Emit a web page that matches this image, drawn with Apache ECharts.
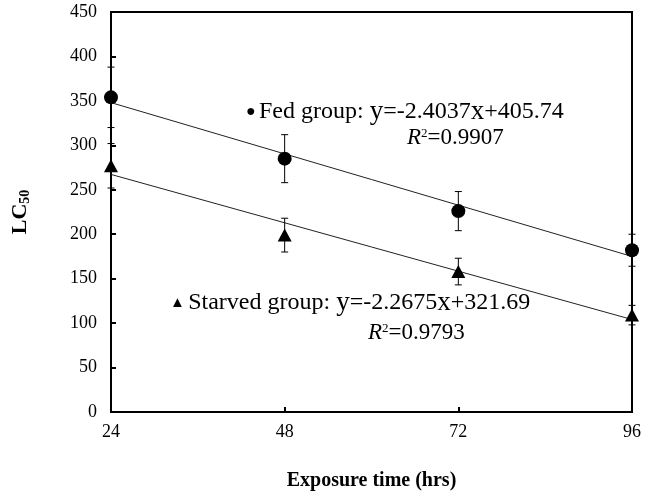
<!DOCTYPE html>
<html><head><meta charset="utf-8">
<script src="https://cdn.jsdelivr.net/npm/echarts@6/dist/echarts.min.js"></script>
<style>html,body{margin:0;padding:0;background:#fff}#c{width:654px;height:491px}</style>
</head><body><div id="c"></div>
<script>
const hours = [24, 48, 72, 96];
const fedMean = [354, 285, 226, 182];
const fedErr = [34, 27, 22, 18];
const starvedMean = [277, 199, 158, 109];
const starvedErr = [25, 19, 15, 11];
const fedFit = [-2.4037, 405.74];      // slope, intercept
const starvedFit = [-2.2675, 321.69];
const xTicks = [24, 48, 72, 96];
const yTicks = [0, 50, 100, 150, 200, 250, 300, 350, 400, 450];

const FONT = "'Liberation Serif','Times New Roman',serif";
const pts = (m) => hours.map((h, i) => [h, m[i]]);
const errs = (m, e) => hours.map((h, i) => [h, m[i] - e[i], m[i] + e[i]]);
const fit = (c) => [[hours[0], c[0]*hours[0]+c[1]], [hours[hours.length-1], c[0]*hours[hours.length-1]+c[1]]];

function errItem(params, api) {
  const x = api.value(0);
  const lo = api.coord([x, api.value(1)]);
  const hi = api.coord([x, api.value(2)]);
  const w = 3.5;
  const st = { stroke: '#000', lineWidth: 1 };
  return { type: 'group', children: [
    { type: 'line', shape: { x1: lo[0], y1: lo[1], x2: hi[0], y2: hi[1] }, style: st },
    { type: 'line', shape: { x1: lo[0]-w, y1: lo[1], x2: lo[0]+w, y2: lo[1] }, style: st },
    { type: 'line', shape: { x1: hi[0]-w, y1: hi[1], x2: hi[0]+w, y2: hi[1] }, style: st }
  ]};
}

const eqRich = {
  d: { fontSize: 16, fontFamily: FONT, fill: '#000' },
  tri: { fontSize: 15, fontFamily: FONT, fill: '#000' },
  t: { fontSize: 24, fontFamily: FONT, fill: '#000' },
  m: { fontSize: 27, fontFamily: FONT, fill: '#000' }
};
const r2Rich = {
  i: { fontSize: 23, fontFamily: FONT, fontStyle: 'italic', fill: '#000' },
  s: { fontSize: 13, fontFamily: FONT, fill: '#000', padding: [0,0,9,0] },
  t: { fontSize: 23, fontFamily: FONT, fill: '#000' }
};

const chart = echarts.init(document.getElementById('c'), null, { renderer: 'canvas' });
chart.setOption({
  animation: false,
  backgroundColor: '#fff',
  textStyle: { fontFamily: FONT },
  grid: { left: 111, right: 22, top: 12, bottom: 79, outerBoundsMode: 'none', containLabel: false, show: true, borderColor: '#000', borderWidth: 2, backgroundColor: 'transparent' },
  xAxis: {
    type: 'value', min: xTicks[0], max: xTicks[xTicks.length-1], interval: 24,
    name: 'Exposure time (hrs)', nameLocation: 'middle', nameGap: 59,
    nameTextStyle: { fontFamily: FONT, fontWeight: 'bold', fontSize: 20, color: '#000' },
    axisLine: { lineStyle: { color: '#000', width: 2 } },
    axisTick: { inside: true, length: 5, lineStyle: { color: '#000', width: 2 } },
    axisLabel: { fontFamily: FONT, fontSize: 18, color: '#000', margin: 11 },
    splitLine: { show: false }
  },
  yAxis: {
    type: 'value', min: yTicks[0], max: yTicks[yTicks.length-1], interval: 50,
    name: '{a|LC}{b|50}', nameLocation: 'middle', nameGap: 79, nameRotate: 90,
    nameTextStyle: { fontFamily: FONT, color: '#000', rich: {
      a: { fontFamily: FONT, fontWeight: 'bold', fontSize: 22, color: '#000' },
      b: { fontFamily: FONT, fontWeight: 'bold', fontSize: 14, color: '#000', verticalAlign: 'bottom', padding: [10,0,0,0] }
    } },
    axisLine: { lineStyle: { color: '#000', width: 2 } },
    axisTick: { inside: true, length: 5, lineStyle: { color: '#000', width: 2 } },
    axisLabel: { fontFamily: FONT, fontSize: 18, color: '#000', margin: 14 },
    splitLine: { show: false }
  },
  series: [
    { type: 'line', data: fit(fedFit), symbol: 'none', lineStyle: { color: '#222', width: 1 }, z: 2 },
    { type: 'line', data: fit(starvedFit), symbol: 'none', lineStyle: { color: '#222', width: 1 }, z: 2 },
    { type: 'custom', data: errs(fedMean, fedErr), renderItem: errItem, z: 3, clip: false },
    { type: 'custom', data: errs(starvedMean, starvedErr), renderItem: errItem, z: 3, clip: false },
    { type: 'scatter', data: pts(fedMean), symbol: 'circle', symbolSize: 14, itemStyle: { color: '#000', opacity: 1 }, z: 5, clip: false },
    { type: 'scatter', data: pts(starvedMean), symbol: 'triangle', symbolSize: [14, 13], itemStyle: { color: '#000', opacity: 1 }, z: 5, clip: false }
  ],
  graphic: [
    { type: 'text', x: 246, y: 112, style: { text: '{d|●} {t|Fed group: }{m|y}{t|=-2.4037}{m|x}{t|+405.74}', fill: '#000', verticalAlign: 'middle', rich: eqRich } },
    { type: 'text', x: 407, y: 138, style: { text: '{i|R}{s|2}{t|=0.9907}', fill: '#000', verticalAlign: 'middle', rich: r2Rich } },
    { type: 'text', x: 170, y: 303, style: { text: '{tri|▲} {t|Starved group: }{m|y}{t|=-2.2675}{m|x}{t|+321.69}', fill: '#000', verticalAlign: 'middle', rich: eqRich } },
    { type: 'text', x: 368, y: 333, style: { text: '{i|R}{s|2}{t|=0.9793}', fill: '#000', verticalAlign: 'middle', rich: r2Rich } }
  ]
});
</script></body></html>
